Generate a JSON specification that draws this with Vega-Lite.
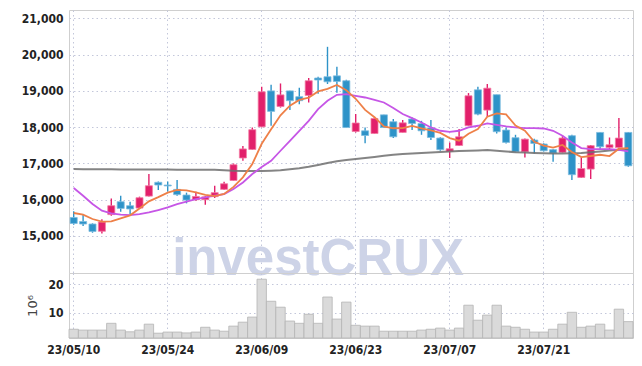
{
  "$schema": "https://vega.github.io/schema/vega-lite/v6.json",
  "padding": {"left": 5, "top": 9, "right": 10, "bottom": 5},
  "spacing": 0,
  "bounds": "flush",
  "config": {
    "view": {"stroke": "#cfcfcf"},
    "axis": {
      "labelFont": "DejaVu Sans Condensed, DejaVu Sans, sans-serif",
      "labelFontWeight": "bold",
      "labelFontSize": 12,
      "labelColor": "#222222",
      "gridColor": "#c3c7da",
      "gridDash": [1.5, 3],
      "domain": false,
      "ticks": false
    }
  },
  "datasets": {
    "k": [
      {"d": "23/05/10", "o": 15510, "h": 15680, "l": 15310, "c": 15345, "v": 4.1, "m5": 15634, "m20": 16322, "m120": 16845},
      {"d": "23/05/11", "o": 15400, "h": 15590, "l": 15275, "c": 15330, "v": 3.8, "m5": 15587, "m20": 16110, "m120": 16843},
      {"d": "23/05/12", "o": 15330, "h": 15350, "l": 15090, "c": 15125, "v": 3.8, "m5": 15468, "m20": 15881, "m120": 16841},
      {"d": "23/05/15", "o": 15130, "h": 15460, "l": 15070, "c": 15385, "v": 3.8, "m5": 15394, "m20": 15697, "m120": 16840},
      {"d": "23/05/16", "o": 15590, "h": 16035, "l": 15560, "c": 15835, "v": 6.2, "m5": 15404, "m20": 15623, "m120": 16838},
      {"d": "23/05/17", "o": 15945, "h": 16110, "l": 15670, "c": 15760, "v": 3.8, "m5": 15487, "m20": 15587, "m120": 16836},
      {"d": "23/05/18", "o": 15835, "h": 15945, "l": 15605, "c": 15745, "v": 3.2, "m5": 15570, "m20": 15578, "m120": 16835},
      {"d": "23/05/19", "o": 15770, "h": 16085, "l": 15760, "c": 16055, "v": 3.8, "m5": 15756, "m20": 15605, "m120": 16834},
      {"d": "23/05/22", "o": 16100, "h": 16710, "l": 16090, "c": 16385, "v": 5.9, "m5": 15956, "m20": 15650, "m120": 16833},
      {"d": "23/05/23", "o": 16480, "h": 16500, "l": 16265, "c": 16405, "v": 2.7, "m5": 16070, "m20": 15716, "m120": 16832},
      {"d": "23/05/24", "o": 16405, "h": 16500, "l": 16230, "c": 16380, "v": 3.1, "m5": 16194, "m20": 15788, "m120": 16830},
      {"d": "23/05/25", "o": 16285, "h": 16545, "l": 16110, "c": 16140, "v": 3.1, "m5": 16273, "m20": 15881, "m120": 16829},
      {"d": "23/05/26", "o": 16130, "h": 16195, "l": 15900, "c": 15990, "v": 2.8, "m5": 16260, "m20": 15945, "m120": 16828},
      {"d": "23/05/30", "o": 16000, "h": 16220, "l": 15970, "c": 16090, "v": 3.1, "m5": 16201, "m20": 16019, "m120": 16827},
      {"d": "23/05/31", "o": 16000, "h": 16100, "l": 15860, "c": 16080, "v": 4.8, "m5": 16136, "m20": 16064, "m120": 16826},
      {"d": "23/06/01", "o": 16085, "h": 16385, "l": 16045, "c": 16195, "v": 3.8, "m5": 16099, "m20": 16110, "m120": 16825},
      {"d": "23/06/02", "o": 16285, "h": 16495, "l": 16270, "c": 16440, "v": 3.4, "m5": 16159, "m20": 16157, "m120": 16812},
      {"d": "23/06/05", "o": 16530, "h": 17000, "l": 16520, "c": 16965, "v": 5.2, "m5": 16354, "m20": 16295, "m120": 16800},
      {"d": "23/06/07", "o": 17150, "h": 17480, "l": 17075, "c": 17400, "v": 6.6, "m5": 16616, "m20": 16477, "m120": 16795},
      {"d": "23/06/08", "o": 17385, "h": 17990, "l": 17370, "c": 17930, "v": 8.4, "m5": 16986, "m20": 16708, "m120": 16790},
      {"d": "23/06/09", "o": 18010, "h": 19115, "l": 18000, "c": 18975, "v": 21.8, "m5": 17542, "m20": 16900, "m120": 16790},
      {"d": "23/06/12", "o": 19000, "h": 19170, "l": 18040, "c": 18435, "v": 14.0, "m5": 17941, "m20": 17074, "m120": 16800},
      {"d": "23/06/13", "o": 18570, "h": 19205, "l": 18540, "c": 18890, "v": 11.9, "m5": 18326, "m20": 17350, "m120": 16815},
      {"d": "23/06/14", "o": 19000, "h": 19005, "l": 18470, "c": 18730, "v": 7.0, "m5": 18592, "m20": 17625, "m120": 16840},
      {"d": "23/06/15", "o": 18840, "h": 19085, "l": 18635, "c": 18730, "v": 6.2, "m5": 18752, "m20": 17901, "m120": 16870},
      {"d": "23/06/16", "o": 18875, "h": 19355, "l": 18680, "c": 19280, "v": 9.4, "m5": 18813, "m20": 18176, "m120": 16910},
      {"d": "23/06/19", "o": 19355, "h": 19390, "l": 18920, "c": 19300, "v": 6.2, "m5": 18986, "m20": 18499, "m120": 16960},
      {"d": "23/06/20", "o": 19390, "h": 20215, "l": 19190, "c": 19250, "v": 15.5, "m5": 19058, "m20": 18727, "m120": 17010},
      {"d": "23/06/21", "o": 19415, "h": 19665, "l": 18950, "c": 19260, "v": 7.7, "m5": 19164, "m20": 18893, "m120": 17060},
      {"d": "23/06/22", "o": 19280, "h": 19305, "l": 17990, "c": 17990, "v": 13.7, "m5": 19016, "m20": 18912, "m120": 17095},
      {"d": "23/06/23", "o": 17880, "h": 18360, "l": 17855, "c": 18115, "v": 5.5, "m5": 18783, "m20": 18865, "m120": 17120},
      {"d": "23/06/26", "o": 17900, "h": 17990, "l": 17560, "c": 17770, "v": 5.2, "m5": 18477, "m20": 18818, "m120": 17150},
      {"d": "23/06/27", "o": 17825, "h": 18285, "l": 17820, "c": 18240, "v": 5.2, "m5": 18275, "m20": 18755, "m120": 17180},
      {"d": "23/06/28", "o": 18340, "h": 18345, "l": 17980, "c": 17990, "v": 3.4, "m5": 18021, "m20": 18680, "m120": 17210},
      {"d": "23/06/29", "o": 18150, "h": 18225, "l": 17700, "c": 17735, "v": 3.4, "m5": 17970, "m20": 18530, "m120": 17240},
      {"d": "23/06/30", "o": 17855, "h": 18195, "l": 17850, "c": 18120, "v": 3.4, "m5": 17971, "m20": 18361, "m120": 17260},
      {"d": "23/07/03", "o": 18225, "h": 18270, "l": 17920, "c": 18100, "v": 3.4, "m5": 18037, "m20": 18251, "m120": 17275},
      {"d": "23/07/04", "o": 18100, "h": 18175, "l": 17790, "c": 17900, "v": 3.8, "m5": 17969, "m20": 18130, "m120": 17290},
      {"d": "23/07/05", "o": 17980, "h": 18195, "l": 17645, "c": 17715, "v": 4.1, "m5": 17914, "m20": 17992, "m120": 17300},
      {"d": "23/07/06", "o": 17700, "h": 17720, "l": 17350, "c": 17380, "v": 4.5, "m5": 17843, "m20": 17901, "m120": 17315},
      {"d": "23/07/07", "o": 17330, "h": 17580, "l": 17150, "c": 17405, "v": 3.8, "m5": 17700, "m20": 17873, "m120": 17330},
      {"d": "23/07/10", "o": 17495, "h": 17950, "l": 17480, "c": 17735, "v": 4.5, "m5": 17627, "m20": 17901, "m120": 17340},
      {"d": "23/07/11", "o": 18040, "h": 18940, "l": 18030, "c": 18865, "v": 12.6, "m5": 17820, "m20": 17992, "m120": 17350},
      {"d": "23/07/12", "o": 19030, "h": 19115, "l": 18330, "c": 18360, "v": 7.3, "m5": 17949, "m20": 18039, "m120": 17360},
      {"d": "23/07/13", "o": 18470, "h": 19190, "l": 18285, "c": 19075, "v": 9.1, "m5": 18288, "m20": 18102, "m120": 17370},
      {"d": "23/07/14", "o": 18895, "h": 18895, "l": 17825, "c": 17875, "v": 12.6, "m5": 18382, "m20": 18066, "m120": 17350},
      {"d": "23/07/17", "o": 17920, "h": 17990, "l": 17550, "c": 17580, "v": 5.2, "m5": 18351, "m20": 18019, "m120": 17330},
      {"d": "23/07/18", "o": 17710, "h": 17790, "l": 17310, "c": 17320, "v": 4.8, "m5": 18042, "m20": 17992, "m120": 17310},
      {"d": "23/07/19", "o": 17320, "h": 17690, "l": 17165, "c": 17670, "v": 4.1, "m5": 17904, "m20": 17975, "m120": 17300},
      {"d": "23/07/20", "o": 17645, "h": 17680, "l": 17275, "c": 17550, "v": 3.1, "m5": 17599, "m20": 17975, "m120": 17290},
      {"d": "23/07/21", "o": 17535, "h": 17560, "l": 17330, "c": 17350, "v": 3.1, "m5": 17494, "m20": 17964, "m120": 17280},
      {"d": "23/07/24", "o": 17380, "h": 17400, "l": 17045, "c": 17285, "v": 4.1, "m5": 17435, "m20": 17901, "m120": 17275},
      {"d": "23/07/25", "o": 17305, "h": 17765, "l": 17290, "c": 17700, "v": 5.9, "m5": 17511, "m20": 17763, "m120": 17275},
      {"d": "23/07/26", "o": 17765, "h": 17790, "l": 16545, "c": 16690, "v": 10.1, "m5": 17315, "m20": 17579, "m120": 17280},
      {"d": "23/07/27", "o": 16615, "h": 17165, "l": 16600, "c": 16860, "v": 4.8, "m5": 17177, "m20": 17424, "m120": 17290},
      {"d": "23/07/28", "o": 16845, "h": 17510, "l": 16570, "c": 17490, "v": 5.2, "m5": 17205, "m20": 17397, "m120": 17310},
      {"d": "23/07/31", "o": 17855, "h": 17860, "l": 17370, "c": 17460, "v": 5.9, "m5": 17240, "m20": 17397, "m120": 17330},
      {"d": "23/08/01", "o": 17440, "h": 17715, "l": 17395, "c": 17515, "v": 3.8, "m5": 17203, "m20": 17397, "m120": 17355},
      {"d": "23/08/02", "o": 17440, "h": 18250, "l": 17430, "c": 17700, "v": 11.2, "m5": 17405, "m20": 17377, "m120": 17380},
      {"d": "23/08/03", "o": 17855, "h": 17870, "l": 16910, "c": 16935, "v": 6.8, "m5": 17420, "m20": 17331, "m120": 17410}
    ]
  },
  "vconcat": [
    {
      "width": 564,
      "height": 263,
      "data": {"name": "k"},
      "encoding": {
        "x": {
          "field": "d", "type": "ordinal", "sort": null,
          "scale": {"paddingInner": 0, "paddingOuter": 0},
          "axis": {"values": ["23/05/10", "23/05/24", "23/06/09", "23/06/23", "23/07/07", "23/07/21"], "labels": false, "title": null, "grid": true, "bandPosition": 0.5}
        }
      },
      "layer": [
        {
          "mark": {"type": "rule", "strokeWidth": 1.4},
          "encoding": {
            "y": {"field": "l", "type": "quantitative", "title": null, "scale": {"domain": [13980, 21230], "nice": false, "zero": false}, "axis": {"values": [15000, 16000, 17000, 18000, 19000, 20000, 21000], "labelExpr": "format(datum.value, ',')", "grid": true, "labelPadding": 6, "minExtent": 63, "maxExtent": 63}},
            "y2": {"field": "h"},
            "color": {"condition": {"test": "datum.c >= datum.o", "value": "#e2206b"}, "value": "#2e93c8"}
          }
        },
        {
          "mark": {"type": "bar", "width": {"band": 0.75}, "strokeWidth": 0.8},
          "encoding": {
            "y": {"field": "o", "type": "quantitative", "title": null, "scale": {"domain": [13980, 21230], "nice": false, "zero": false}, "axis": {"values": [15000, 16000, 17000, 18000, 19000, 20000, 21000], "labelExpr": "format(datum.value, ',')", "grid": true, "labelPadding": 6, "minExtent": 63, "maxExtent": 63}},
            "y2": {"field": "c"},
            "color": {"condition": {"test": "datum.c >= datum.o", "value": "#e2206b"}, "value": "#2e93c8"},
            "stroke": {"condition": {"test": "datum.c >= datum.o", "value": "#f27ba3"}, "value": "#7dbde0"}
          }
        },
        {
          "mark": {"type": "line", "color": "#6e6e6e", "strokeWidth": 2, "opacity": 0.85},
          "encoding": {"y": {"field": "m120", "type": "quantitative", "title": null, "scale": {"domain": [13980, 21230], "nice": false, "zero": false}, "axis": {"values": [15000, 16000, 17000, 18000, 19000, 20000, 21000], "labelExpr": "format(datum.value, ',')", "grid": true, "labelPadding": 6, "minExtent": 63, "maxExtent": 63}}}
        },
        {
          "mark": {"type": "line", "color": "#c656e6", "strokeWidth": 1.8},
          "encoding": {"y": {"field": "m20", "type": "quantitative", "title": null, "scale": {"domain": [13980, 21230], "nice": false, "zero": false}, "axis": {"values": [15000, 16000, 17000, 18000, 19000, 20000, 21000], "labelExpr": "format(datum.value, ',')", "grid": true, "labelPadding": 6, "minExtent": 63, "maxExtent": 63}}}
        },
        {
          "mark": {"type": "line", "color": "#ee8048", "strokeWidth": 1.8},
          "encoding": {"y": {"field": "m5", "type": "quantitative", "title": null, "scale": {"domain": [13980, 21230], "nice": false, "zero": false}, "axis": {"values": [15000, 16000, 17000, 18000, 19000, 20000, 21000], "labelExpr": "format(datum.value, ',')", "grid": true, "labelPadding": 6, "minExtent": 63, "maxExtent": 63}}}
        },
        {
          "transform": [{"filter": "datum.d == '23/06/19'"}],
          "mark": {"type": "text", "text": "investCRUX", "font": "Liberation Sans", "fontWeight": "bold", "fontSize": 51, "color": "#cdd3e7", "baseline": "alphabetic", "align": "center"},
          "encoding": {
            "y": {"datum": 13930, "type": "quantitative", "title": null, "scale": {"domain": [13980, 21230], "nice": false, "zero": false}, "axis": {"values": [15000, 16000, 17000, 18000, 19000, 20000, 21000], "labelExpr": "format(datum.value, ',')", "grid": true, "labelPadding": 6, "minExtent": 63, "maxExtent": 63}}
          }
        }
      ]
    },
    {
      "width": 564,
      "height": 65,
      "data": {"name": "k"},
      "mark": {"type": "bar", "color": "#dadada", "stroke": "#b4b4b4", "strokeWidth": 0.8},
      "encoding": {
        "x": {
          "field": "d", "type": "ordinal", "sort": null,
          "scale": {"paddingInner": 0, "paddingOuter": 0},
          "axis": {"values": ["23/05/10", "23/05/24", "23/06/09", "23/06/23", "23/07/07", "23/07/21"], "title": null, "grid": true, "bandPosition": 0.5, "labelPadding": 6, "labelAngle": 0}
        },
        "y": {
          "field": "v", "type": "quantitative",
          "scale": {"domain": [1, 24], "nice": false, "zero": false},
          "axis": {"values": [10, 20], "title": "10⁶", "titleFont": "DejaVu Sans", "titleFontWeight": "normal", "titleFontSize": 13, "titleColor": "#444444", "grid": true, "labelPadding": 6, "titlePadding": 10, "minExtent": 20, "maxExtent": 20}
        },
        "y2": {"datum": 1}
      }
    }
  ]
}
